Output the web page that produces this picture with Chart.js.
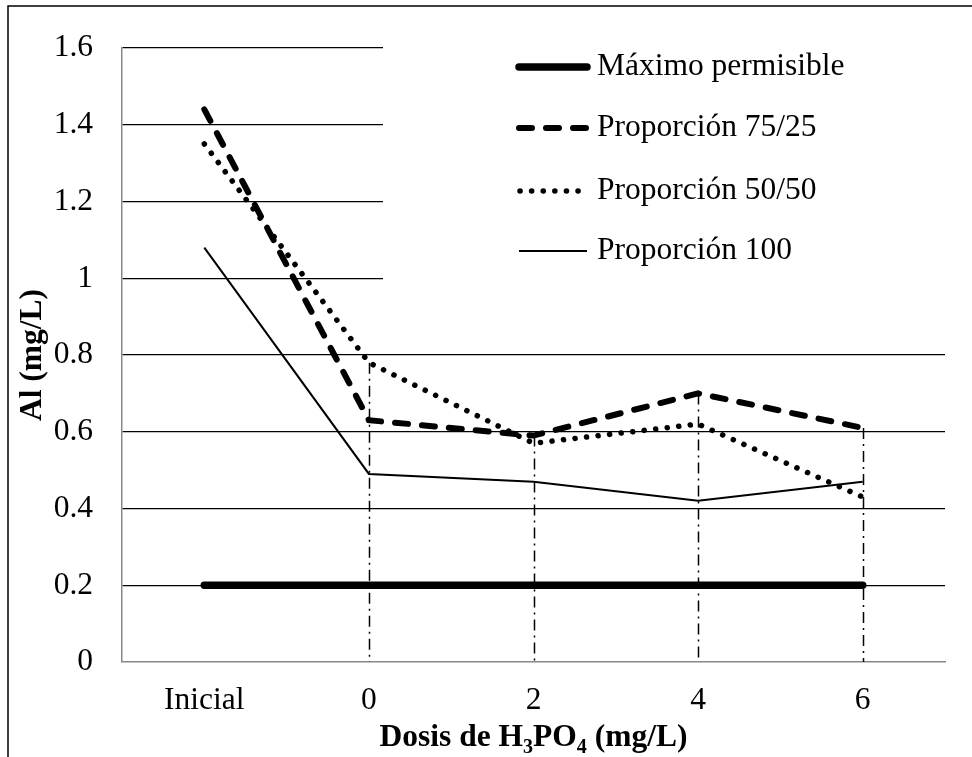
<!DOCTYPE html>
<html>
<head>
<meta charset="utf-8">
<script src="https://cdn.jsdelivr.net/npm/chart.js@4.4.1/dist/chart.umd.min.js"></script>
<style>
  html, body { margin: 0; padding: 0; background: #fff; }
</style>
</head>
<body>
<canvas id="chart" width="972" height="757"></canvas>
<script>
// data
const categories = ['Inicial', '0', '2', '4', '6'];
const maxPermisible = [0.2, 0.2, 0.2, 0.2, 0.2];
const prop7525 = [1.44, 0.63, 0.59, 0.70, 0.61];
const prop5050 = [1.35, 0.78, 0.57, 0.62, 0.43];
const prop100 = [1.08, 0.49, 0.47, 0.42, 0.47];
const yMin = 0, yMax = 1.6, yStep = 0.2;
const dropLineCats = ['0', '2', '4', '6'];

const FONT = "'Liberation Serif', 'Times New Roman', serif";
Chart.defaults.font.family = FONT;
Chart.defaults.font.size = 31.5;
Chart.defaults.color = '#000';

// outer frame (only top and left edges show in the picture)
const frame = {
  id: 'frame',
  afterDraw(chart) {
    const c = chart.ctx;
    c.save();
    c.strokeStyle = '#000';
    c.lineWidth = 1.5;
    c.beginPath();
    c.moveTo(8, 757);
    c.lineTo(8, 6);
    c.lineTo(972, 6);
    c.stroke();
    c.restore();
  }
};

// dash-dot drop lines from the highest point of each category down to the axis
const dropLines = {
  id: 'dropLines',
  beforeDatasetsDraw(chart) {
    const c = chart.ctx, xs = chart.scales.x, ys = chart.scales.y;
    c.save();
    c.strokeStyle = '#000';
    c.lineWidth = 1.5;
    c.setLineDash([11, 5, 2, 5]);
    dropLineCats.forEach(cat => {
      const i = categories.indexOf(cat);
      let top = -Infinity;
      chart.data.datasets.forEach(ds => { if (ds.data[i] > top) top = ds.data[i]; });
      const x = Math.round(xs.getPixelForValue(i)) + 0.5;
      c.beginPath();
      c.moveTo(x, ys.getPixelForValue(top));
      c.lineTo(x, ys.getPixelForValue(yMin));
      c.stroke();
    });
    c.restore();
  }
};

// legend in a white box over the top-right of the plot
const legendBox = {
  id: 'legendBox',
  beforeDatasetsDraw(chart) {
    const c = chart.ctx;
    c.save();
    c.fillStyle = '#fff';
    c.fillRect(383, chart.chartArea.top - 2, chart.chartArea.right - 383 + 2, 295 - chart.chartArea.top);
    const rows = [67, 128, 191, 251];
    chart.data.datasets.forEach((ds, k) => {
      const y = rows[k];
      c.strokeStyle = '#000';
      c.lineWidth = ds.borderWidth;
      c.lineCap = ds.borderCapStyle || 'butt';
      c.setLineDash(ds.borderDash || []);
      c.beginPath();
      c.moveTo(ds.borderDash && ds.borderDash[0] < 1 ? 520 : 519, y);
      c.lineTo(587, y);
      c.stroke();
      c.setLineDash([]);
      c.fillStyle = '#000';
      c.font = '31.5px ' + FONT;
      c.textBaseline = 'middle';
      c.textAlign = 'left';
      c.fillText(ds.label, 597, y);
    });
    c.restore();
  }
};

// axis titles (x title has subscripts)
const axisTitles = {
  id: 'axisTitles',
  afterDraw(chart) {
    const c = chart.ctx, a = chart.chartArea;
    c.save();
    c.fillStyle = '#000';
    c.textBaseline = 'alphabetic';
    const big = 'bold 31.5px ' + FONT, small = 'bold 20px ' + FONT;
    const parts = [['Dosis de H', big, 0], ['3', small, 7], ['PO', big, 0], ['4', small, 7], [' (mg/L)', big, 0]];
    let w = 0;
    parts.forEach(p => { c.font = p[1]; w += c.measureText(p[0]).width; });
    let x = (a.left + a.right) / 2 - w / 2;
    const base = 746;
    c.textAlign = 'left';
    parts.forEach(p => {
      c.font = p[1];
      c.fillText(p[0], x, base + p[2]);
      x += c.measureText(p[0]).width;
    });
    c.translate(33, (a.top + a.bottom) / 2);
    c.rotate(-Math.PI / 2);
    c.font = big;
    c.textAlign = 'center';
    c.textBaseline = 'middle';
    c.fillText('Al (mg/L)', 0, 0);
    c.restore();
  }
};

new Chart(document.getElementById('chart'), {
  type: 'line',
  data: {
    labels: categories,
    datasets: [
      { label: 'Máximo permisible', data: maxPermisible, borderColor: '#000', borderWidth: 7.5, borderCapStyle: 'round' },
      { label: 'Proporción 75/25', data: prop7525, borderColor: '#000', borderWidth: 6, borderDash: [13, 14], borderCapStyle: 'round' },
      { label: 'Proporción 50/50', data: prop5050, borderColor: '#000', borderWidth: 5.5, borderDash: [0.1, 11.5], borderCapStyle: 'round' },
      { label: 'Proporción 100', data: prop100, borderColor: '#000', borderWidth: 2 }
    ]
  },
  options: {
    responsive: false,
    animation: false,
    events: [],
    layout: { padding: { top: 48, right: 27, left: 0, bottom: 0 } },
    elements: { point: { radius: 0 }, line: { tension: 0, fill: false } },
    plugins: { legend: { display: false }, tooltip: { enabled: false } },
    scales: {
      x: {
        offset: true,
        grid: { display: false, drawTicks: false },
        border: { display: true, color: '#888', width: 1.5 },
        ticks: { padding: 20 },
        afterFit(s) { s.height = 95; }
      },
      y: {
        min: yMin, max: yMax,
        grid: {
          drawTicks: false,
          color: ctx => (ctx.tick && ctx.tick.value === 0 ? 'rgba(0,0,0,0)' : '#000'),
          lineWidth: 1.3
        },
        border: { display: true, color: '#888', width: 1.5 },
        ticks: {
          stepSize: yStep,
          padding: 29,
          callback: v => String(+v.toFixed(1))
        },
        afterFit(s) { s.width = 122; }
      }
    }
  },
  plugins: [dropLines, legendBox, axisTitles, frame]
});
</script>
</body>
</html>
